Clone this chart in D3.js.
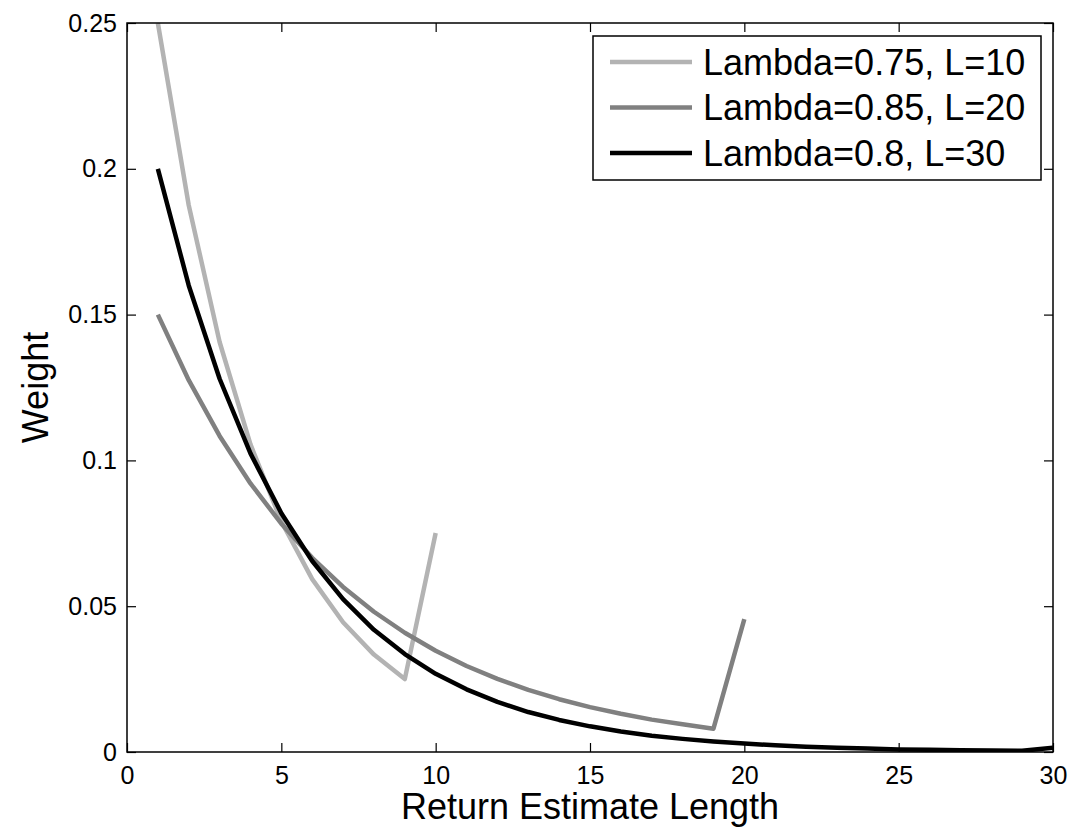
<!DOCTYPE html>
<html>
<head>
<meta charset="utf-8">
<script src="https://cdn.jsdelivr.net/npm/d3@7"></script>
<style>
  body { margin: 0; background: #fff; }
  text { font-family: "Liberation Sans", Arial, Helvetica, sans-serif; fill: #000; }
</style>
</head>
<body>
<div id="chart"></div>
<script>
// Weights, one array per curve (x = 1..L)
var seriesNames = ["Lambda=0.75, L=10", "Lambda=0.85, L=20", "Lambda=0.8, L=30"];
var seriesColors = ["#b3b3b3", "#808080", "#000000"];

var weightsA = [0.25, 0.1875, 0.1406, 0.1055, 0.0791, 0.0593, 0.0445, 0.0334, 0.0250, 0.0751];
var weightsB = [0.15, 0.1275, 0.1084, 0.0921, 0.0783, 0.0666, 0.0566, 0.0481, 0.0409, 0.0347,
                0.0295, 0.0251, 0.0213, 0.0181, 0.0154, 0.0131, 0.0111, 0.0095, 0.0080, 0.0456];
var weightsC = [0.2, 0.16, 0.128, 0.1024, 0.0819, 0.0655, 0.0524, 0.0419, 0.0336, 0.0268,
                0.0215, 0.0172, 0.0137, 0.0110, 0.0088, 0.0070, 0.0056, 0.0045, 0.0036, 0.0029,
                0.0023, 0.0018, 0.0015, 0.0012, 0.0009, 0.0008, 0.0006, 0.0005, 0.0004, 0.0015];

var xTicks = [0, 5, 10, 15, 20, 25, 30];
var yTicks = [0, 0.05, 0.1, 0.15, 0.2, 0.25];
var yTickLabels = ["0", "0.05", "0.1", "0.15", "0.2", "0.25"];

var allSeries = [weightsA, weightsB, weightsC];

// Dimensions
var svg_dx = 1074, svg_dy = 834;
var margin = {top: 23, right: 21, bottom: 82, left: 127},
    width  = svg_dx - margin.left - margin.right,
    height = svg_dy - margin.top - margin.bottom;

var xScale = d3.scaleLinear().domain([0, 30]).range([0, width]);
var yScale = d3.scaleLinear().domain([0, 0.25]).range([height, 0]);

var svg = d3.select("#chart")
            .append("svg")
            .attr("width", svg_dx)
            .attr("height", svg_dy);

var g = svg.append("g")
           .attr("transform", "translate(" + margin.left + "," + margin.top + ")");

g.append("clipPath").attr("id", "plotClip")
 .append("rect").attr("width", width).attr("height", height);

// Inward ticks on all four sides (MATLAB box style)
var tickLen = 9;
g.append("g")
 .attr("transform", "translate(0," + height + ")")
 .call(d3.axisBottom(xScale).tickValues(xTicks).tickSizeInner(-tickLen).tickSizeOuter(0).tickPadding(14))
 .call(function(a) { a.select(".domain").remove(); })
 .selectAll("text").style("font-size", "25px");

g.append("g")
 .call(d3.axisTop(xScale).tickValues(xTicks).tickSizeInner(-tickLen).tickSizeOuter(0).tickFormat(""))
 .call(function(a) { a.select(".domain").remove(); });

g.append("g")
 .call(d3.axisLeft(yScale).tickValues(yTicks).tickSizeInner(-tickLen).tickSizeOuter(0).tickPadding(10)
        .tickFormat(function(d, i) { return yTickLabels[i]; }))
 .call(function(a) { a.select(".domain").remove(); })
 .selectAll("text").style("font-size", "25px");

g.append("g")
 .attr("transform", "translate(" + width + ",0)")
 .call(d3.axisRight(yScale).tickValues(yTicks).tickSizeInner(-tickLen).tickSizeOuter(0).tickFormat(""))
 .call(function(a) { a.select(".domain").remove(); });

g.selectAll(".tick line").attr("stroke", "#000").attr("stroke-width", 1.2);
g.selectAll(".tick text").attr("fill", "#000");

// Curves
var line = d3.line()
             .x(function(d, i) { return xScale(i + 1); })
             .y(function(d) { return yScale(d); });

g.append("g").attr("clip-path", "url(#plotClip)")
 .selectAll("path.curve")
 .data(allSeries)
 .enter()
 .append("path")
 .attr("class", "curve")
 .attr("d", line)
 .attr("fill", "none")
 .attr("stroke", function(d, i) { return seriesColors[i]; })
 .attr("stroke-width", 4.5)
 .attr("stroke-linejoin", "round");

// Axes box
g.append("rect")
 .attr("width", width)
 .attr("height", height)
 .attr("fill", "none")
 .attr("stroke", "#000")
 .attr("stroke-width", 1.5);

// Axis labels
svg.append("text")
   .attr("x", margin.left + width / 2)
   .attr("y", 819)
   .attr("text-anchor", "middle")
   .style("font-size", "36px")
   .text("Return Estimate Length");

svg.append("text")
   .attr("transform", "translate(48," + (margin.top + height / 2) + ") rotate(-90)")
   .attr("text-anchor", "middle")
   .style("font-size", "36px")
   .text("Weight");

// Legend
var legend = svg.append("g").attr("transform", "translate(593,36)");
legend.append("rect")
      .attr("width", 448)
      .attr("height", 144)
      .attr("fill", "#fff")
      .attr("stroke", "#000")
      .attr("stroke-width", 1.5);

var rows = legend.selectAll("g.row")
                 .data(seriesNames)
                 .enter()
                 .append("g")
                 .attr("class", "row")
                 .attr("transform", function(d, i) { return "translate(0," + (26 + i * 45.5) + ")"; });

rows.append("line")
    .attr("x1", 17).attr("x2", 99)
    .attr("stroke", function(d, i) { return seriesColors[i]; })
    .attr("stroke-width", 4.5);

rows.append("text")
    .attr("x", 110)
    .attr("dy", "0.36em")
    .style("font-size", "36px")
    .text(function(d) { return d; });
</script>
</body>
</html>
